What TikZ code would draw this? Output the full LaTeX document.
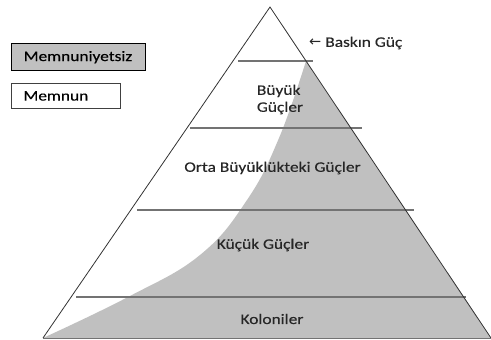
\documentclass[tikz,border=0pt]{standalone}
\usepackage{fontspec}
\setmainfont{Carlito}[FakeStretch=1.2, FakeBold=0.3]
\newfontfamily\symfont{DejaVu Sans}
\definecolor{fillgray}{RGB}{192,192,192}
\definecolor{linegray}{RGB}{115,115,115}
\definecolor{edgegray}{RGB}{50,50,50}
\tikzset{
  lbl/.style={font=\fontsize{14.5}{16}\selectfont, text=black!85, inner sep=0pt},
  legendbox/.style={draw, anchor=north west, align=left, inner xsep=12pt, inner ysep=0pt,
     font=\fontsize{14.5}{16}\selectfont},
  tier/.style={draw=linegray, line width=1.3pt},
  side/.style={draw=edgegray, line width=0.8pt}
}
\begin{document}
\begin{tikzpicture}[x=1pt,y=-1pt]
\useasboundingbox (0,0) rectangle (491,340);
\coordinate (apex) at (270,7);
\coordinate (bl) at (43,338);
\coordinate (br) at (491,338);
% dissatisfied region
\fill[fillgray] plot[smooth, tension=0.7] coordinates {(306,61) (279,138) (247,200) (200,255) (128,297) (43,338)} -- (br) -- cycle;
% tier lines
\coordinate (l1a) at (238,61);  \coordinate (l1b) at (313,61);
\coordinate (l2a) at (190,128); \coordinate (l2b) at (362,128);
\coordinate (l3a) at (137,210); \coordinate (l3b) at (414,210);
\coordinate (l4a) at (76,297);  \coordinate (l4b) at (466,297);
\draw[tier] (l1a) -- (l1b);
\draw[tier] (l2a) -- (l2b);
\draw[tier] (l3a) -- (l3b);
\draw[tier] (l4a) -- (l4b);
% pyramid outline
\draw[side] (bl) -- (apex) -- (br);
\draw[draw=linegray, line width=1pt] (bl) -- (br);
% labels
\node[lbl, anchor=west] (dom) at (309,43) {{\symfont ←} Baskın Güç};
\node[lbl, align=left] (great) at (280,99.5) {Büyük\\[1pt]Güçler};
\node[lbl] (middle) at (272.5,168) {Orta Büyüklükteki Güçler};
\node[lbl] (small) at (263,245) {Küçük Güçler};
\node[lbl] (col) at (272,319) {Koloniler};
% legend
\node[legendbox, fill=fillgray, line width=1.4pt, text width=110pt, minimum height=27pt] (unsat) at (11,43) {Memnuniyetsiz};
\node[legendbox, draw=black!75, line width=0.9pt, text width=85pt, minimum height=25pt] (sat) at (11,83) {Memnun};
\end{tikzpicture}
\end{document}
